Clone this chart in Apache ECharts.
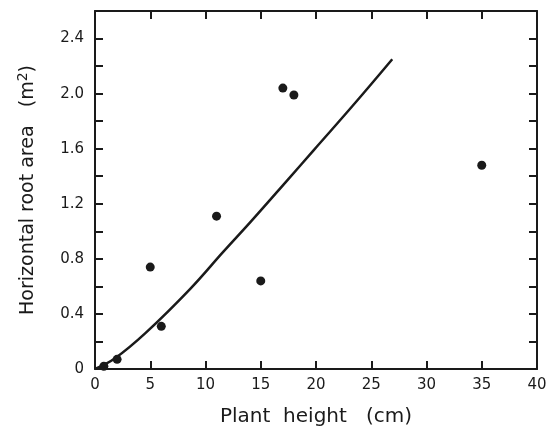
<!DOCTYPE html>
<html>
<head>
<meta charset="utf-8">
<script src="https://cdn.jsdelivr.net/npm/echarts@6/dist/echarts.min.js"></script>
<style>html,body{margin:0;padding:0;background:#fff}#c{width:550px;height:433px}</style>
</head>
<body>
<div id="c"></div>
<script>
// Observed points: plant height (cm), horizontal root area (m^2)
var heights = [0.8, 2, 5, 6, 11, 15, 17, 18, 35];
var areas = [0.02, 0.07, 0.74, 0.31, 1.11, 0.64, 2.04, 1.99, 1.48];
// Fitted curve
var curveX = [0, 1.85, 4.56, 8.6, 11.6, 14.1, 17.4, 19.8, 23.3, 26.9];
var curveY = [0, 0.08, 0.26, 0.58, 0.85, 1.07, 1.37, 1.59, 1.91, 2.25];
var xTicks = [0, 5, 10, 15, 20, 25, 30, 35, 40];
var yLabelTicks = [0, 0.4, 0.8, 1.2, 1.6, 2.0, 2.4];

var ink = '#1a1a1a';
var font = 'DejaVu Sans';
var chart = echarts.init(document.getElementById('c'));
var pts = heights.map(function (h, i) { return [h, areas[i]]; });
var curve = curveX.map(function (x, i) { return [x, curveY[i]]; });

function yFmt(v) {
  var k = Math.round(v * 10);
  for (var i = 0; i < yLabelTicks.length; i++) {
    if (Math.round(yLabelTicks[i] * 10) === k) return k === 0 ? '0' : (k / 10).toFixed(1);
  }
  return '';
}

var axisLine = { show: true, onZero: false, lineStyle: { color: ink, width: 2 } };
var tick = { show: true, inside: true, length: 8, lineStyle: { color: ink, width: 2 } };

chart.setOption({
  animation: false,
  backgroundColor: '#fff',
  grid: { left: 95, right: 13, top: 11, bottom: 64, containLabel: false },
  xAxis: [{
    type: 'value', min: xTicks[0], max: xTicks[xTicks.length - 1], interval: 5,
    position: 'bottom',
    name: 'Plant  height   (cm)', nameLocation: 'middle', nameGap: 38,
    nameTextStyle: { fontFamily: font, fontSize: 20, color: ink },
    axisLine: axisLine, axisTick: tick, splitLine: { show: false },
    axisLabel: { fontFamily: font, fontSize: 15, color: ink, margin: 9 }
  }, {
    type: 'value', min: xTicks[0], max: xTicks[xTicks.length - 1], interval: 5,
    position: 'top',
    axisLine: axisLine, axisTick: tick, splitLine: { show: false },
    axisLabel: { show: false }
  }],
  yAxis: [{
    type: 'value', min: 0, max: 2.6, interval: 0.2,
    position: 'left',
    name: 'Horizontal root area   (m{sup|2})', nameLocation: 'middle', nameGap: 55,
    nameTextStyle: { fontFamily: font, fontSize: 19, color: ink,
      rich: { sup: { fontFamily: font, fontSize: 14, color: ink, padding: [0, 0, 10, 0] } } },
    axisLine: axisLine, axisTick: tick, splitLine: { show: false },
    axisLabel: { fontFamily: font, fontSize: 15, color: ink, margin: 11, formatter: yFmt }
  }, {
    type: 'value', min: 0, max: 2.6, interval: 0.2,
    position: 'right',
    axisLine: axisLine, axisTick: tick, splitLine: { show: false },
    axisLabel: { show: false }
  }],
  series: [{
    type: 'line', data: curve, smooth: 0.4, showSymbol: false,
    lineStyle: { color: ink, width: 2.5 }, z: 2
  }, {
    type: 'scatter', data: pts, symbol: 'circle', symbolSize: 9,
    itemStyle: { color: ink, opacity: 1 }, z: 3
  }]
});
</script>
</body>
</html>
